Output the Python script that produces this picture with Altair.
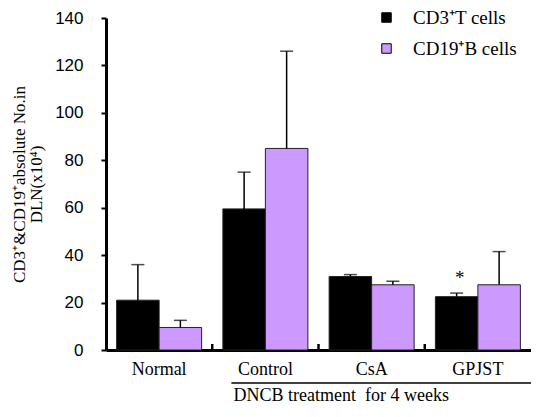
import altair as alt
import pandas as pd

groups = ["Normal", "Control", "CsA", "GPJST"]
series = ["CD3\u207aT cells", "CD19\u207aB cells"]
cd3_mean = [21.0, 59.5, 31.0, 22.5]
cd3_err = [15.0, 15.5, 0.8, 1.5]
cd19_mean = [9.5, 85.0, 27.5, 27.5]
cd19_err = [3.0, 41.0, 1.5, 14.0]
colors = ["#000000", "#cc99ff"]
y_ticks = [0, 20, 40, 60, 80, 100, 120, 140]
boundary_groups = ["Control", "CsA", "GPJST"]
star_group = "GPJST"
star_series = series[0]
bracket_start = ["Control"]
bracket_text = ["DNCB treatment\u00a0 for 4 weeks"]
y_title = ["CD3\u207a&CD19\u207aabsolute No.in", "DLN(x10\u2074)"]

rows = []
for i, g in enumerate(groups):
    rows.append(dict(group=g, series=series[0], mean=cd3_mean[i], top=cd3_mean[i] + cd3_err[i]))
    rows.append(dict(group=g, series=series[1], mean=cd19_mean[i], top=cd19_mean[i] + cd19_err[i]))
df = pd.DataFrame(rows)
star_df = df[(df.group == star_group) & (df.series == star_series)]
bound_df = pd.DataFrame({"group": boundary_groups})
bracket_df = pd.DataFrame({"group": bracket_start, "label": bracket_text})

SERIF = "Liberation Serif"
SANS = "Liberation Sans"

PH = 332  # plot height

x_scale = alt.Scale(domain=groups, paddingInner=0, paddingOuter=0)
xo_scale = alt.Scale(domain=series, paddingInner=0, paddingOuter=0.25)
y_scale = alt.Scale(domain=[0, 140], nice=False)

X = alt.X("group:N", scale=x_scale, sort=groups,
          axis=alt.Axis(title=None, ticks=False, domainWidth=3, domainColor="black",
                        labelFont=SERIF, labelFontSize=18, labelColor="black",
                        labelPadding=10, labelAngle=0))
XO = alt.XOffset("series:N", scale=xo_scale, sort=series)
Y = alt.Y("mean:Q", scale=y_scale,
          axis=alt.Axis(values=y_ticks, title=y_title, titleFont=SERIF, titleFontSize=17,
                        titleFontWeight="normal", titleColor="black", titleLineHeight=17,
                        titlePadding=9, labelFont=SANS, labelFontSize=17, labelColor="black",
                        labelPadding=18, tickSize=5, tickWidth=2, tickColor="black",
                        domainWidth=3, domainColor="black", grid=False))

bars = alt.Chart(df).mark_bar(stroke="#222222", strokeWidth=1).encode(
    x=X, xOffset=XO, y=Y,
    color=alt.Color("series:N", sort=series, scale=alt.Scale(domain=series, range=colors),
                    legend=alt.Legend(orient="none", legendX=271, legendY=-10, title=None,
                                      symbolType="square", symbolSize=90,
                                      symbolStrokeColor="black", symbolStrokeWidth=1,
                                      labelFont=SERIF, labelFontSize=19, labelColor="black",
                                      labelOffset=17, rowPadding=11, padding=0)),
)

err = alt.Chart(df).mark_rule(color="black", strokeWidth=1.5).encode(
    x=alt.X("group:N", sort=groups), xOffset=alt.XOffset("series:N", sort=series),
    y="mean:Q", y2="top:Q")

caps = alt.Chart(df).mark_tick(color="black", thickness=1.5, size=13).encode(
    x=alt.X("group:N", sort=groups), xOffset=alt.XOffset("series:N", sort=series),
    y="top:Q")

star = alt.Chart(star_df).mark_text(text="*", dx=3, dy=-15, font=SERIF, fontSize=19, color="black").encode(
    x=alt.X("group:N", sort=groups), xOffset=alt.XOffset("series:N", sort=series),
    y="top:Q")

bticks = alt.Chart(bound_df).mark_rule(color="black", strokeWidth=2.5).encode(
    x=alt.X("group:N", sort=groups, bandPosition=0),
    y=alt.value(PH - 6), y2=alt.value(PH))

bracket = alt.Chart(bracket_df).mark_rule(color="black", strokeWidth=1.5).encode(
    x=alt.X("group:N", sort=groups, bandPosition=0.18),
    x2=alt.value(440), y=alt.value(PH + 33))

btext = alt.Chart(bracket_df).mark_text(align="left", baseline="middle", font=SERIF,
                                        fontSize=18, color="black").encode(
    x=alt.X("group:N", sort=groups, bandPosition=0.2),
    y=alt.value(PH + 46), text="label:N")

chart = alt.layer(bars, err, caps, star, bticks, bracket, btext).properties(
    width=425, height=PH,
    autosize=alt.AutoSizeParams(type="none"),
    padding={"left": 98, "top": 10, "right": 0, "bottom": 55},
).configure_view(stroke=None)

chart.save("out.html", embed_options={"renderer": "svg", "actions": False})
